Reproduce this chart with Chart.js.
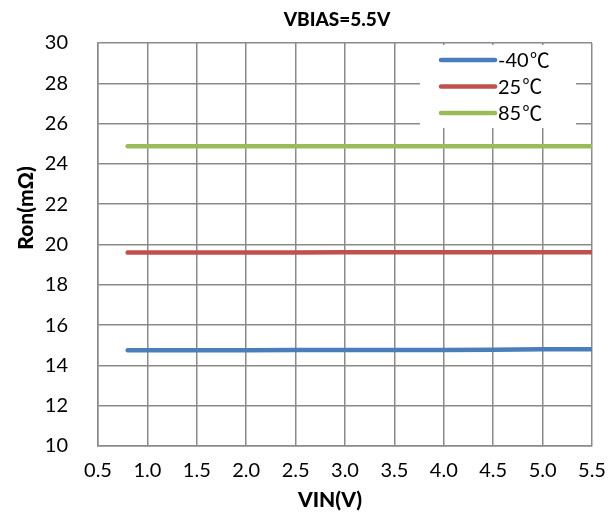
<!DOCTYPE html>
<html>
<head>
<meta charset="utf-8">
<script src="https://cdn.jsdelivr.net/npm/chart.js@4/dist/chart.umd.min.js"></script>
<style>
  html, body { margin: 0; padding: 0; background: #fff; }
  #wrap { width: 615px; height: 528px; }
</style>
</head>
<body>
<div id="wrap"><canvas id="ron"></canvas></div>
<script>
// VIN sweep (V) and on-resistance (mOhm) per temperature
const vin = [0.8, 1.0, 1.5, 2.0, 2.5, 3.0, 3.5, 4.0, 4.5, 5.0, 5.5];
const ronM40 = [14.75, 14.75, 14.75, 14.75, 14.77, 14.77, 14.77, 14.77, 14.78, 14.8, 14.8];
const ron25 = [19.6, 19.6, 19.6, 19.6, 19.6, 19.62, 19.62, 19.62, 19.62, 19.62, 19.62];
const ron85 = [24.87, 24.87, 24.87, 24.87, 24.87, 24.87, 24.87, 24.87, 24.87, 24.87, 24.87];
const seriesLabels = ['-40℃', '25℃', '85℃'];
const xTicks = [0.5, 1.0, 1.5, 2.0, 2.5, 3.0, 3.5, 4.0, 4.5, 5.0, 5.5];
const yTicks = [10, 12, 14, 16, 18, 20, 22, 24, 26, 28, 30];
const chartTitle = 'VBIAS=5.5V';
const xTitle = 'VIN(V)';
const yTitle = 'Ron(mΩ)';

const FONT = 'Lato, "Open Sans", sans-serif';
const CJK = '"Noto Sans CJK JP", "Noto Sans CJK SC", sans-serif';
const GRID = '#8a8a8a';

function toPoints(ys) {
    return vin.map((x, i) => ({ x: x, y: ys[i] }));
}

function lineSet(label, color, ys) {
    return {
        label: label,
        data: toPoints(ys),
        borderColor: color,
        backgroundColor: color,
        borderWidth: 4.5,
        borderCapStyle: 'round',
        pointRadius: 0,
        tension: 0,
    };
}

// titles placed like the original (not centred on the plot)
const titles = {
    id: 'titles',
    afterDraw(chart) {
        const ctx = chart.ctx;
        ctx.save();
        ctx.fillStyle = '#000';
        ctx.textAlign = 'center';
        ctx.textBaseline = 'middle';
        ctx.font = '900 19px ' + FONT;
        ctx.fillText(chartTitle, 337, 20);
        ctx.font = '900 21px ' + FONT;
        ctx.fillText(xTitle, 330, 500);
        ctx.translate(26, 208);
        ctx.rotate(-Math.PI / 2);
        ctx.fillText(yTitle, 0, 0);
        ctx.restore();
    }
};

// legend drawn inside the plot, on a white box like the original
const boxLegend = {
    id: 'boxLegend',
    afterDraw(chart) {
        const ctx = chart.ctx;
        const area = chart.chartArea;
        const bx = area.right - 172, by = area.top + 2;
        ctx.save();
        ctx.fillStyle = '#fff';
        ctx.fillRect(bx, by, 156, 83);
        ctx.textBaseline = 'middle';
        chart.data.datasets.forEach((ds, i) => {
            const y = by + 15 + i * 26.5;
            ctx.strokeStyle = ds.borderColor;
            ctx.lineWidth = 4.5;
            ctx.lineCap = 'round';
            ctx.beginPath();
            ctx.moveTo(bx + 21, y);
            ctx.lineTo(bx + 75, y);
            ctx.stroke();
            ctx.fillStyle = '#000';
            const num = ds.label.slice(0, -1);
            const unit = ds.label.slice(-1);
            ctx.font = '20px ' + FONT;
            ctx.fillText(num, bx + 78, y + 1);
            const w = ctx.measureText(num).width;
            ctx.font = '20px ' + CJK;
            ctx.fillText(unit, bx + 79 + w, y);
        });
        ctx.restore();
    }
};

const ctx = document.getElementById('ron').getContext('2d');
new Chart(ctx, {
    type: 'line',
    data: {
        datasets: [
            lineSet(seriesLabels[0], '#4a7ebb', ronM40),
            lineSet(seriesLabels[1], '#c0504d', ron25),
            lineSet(seriesLabels[2], '#9bbb59', ron85),
        ],
    },
    options: {
        responsive: true,
        maintainAspectRatio: false,
        animation: false,
        layout: { padding: { left: 0, right: 0, top: 43, bottom: 0 } },
        plugins: {
            legend: { display: false },
            tooltip: { enabled: false },
            title: { display: false },
        },
        scales: {
            x: {
                type: 'linear',
                min: 0.5,
                max: 5.5,
                afterBuildTicks(scale) {
                    scale.ticks = xTicks.map(v => ({ value: v }));
                },
                afterFit(scale) {
                    scale.height = 82;
                    scale.paddingLeft = 0;
                    scale.paddingRight = 23;
                },
                ticks: {
                    color: '#000',
                    font: { family: FONT, size: 20 },
                    padding: 13,
                    maxRotation: 0,
                    callback: v => v.toFixed(1),
                },
                grid: { color: GRID, lineWidth: 1.5, drawTicks: false },
                border: { color: GRID, width: 1.5 },
            },
            y: {
                min: 10,
                max: 30,
                afterBuildTicks(scale) {
                    scale.ticks = yTicks.map(v => ({ value: v }));
                },
                afterFit(scale) { scale.width = 98; },
                ticks: {
                    color: '#000',
                    font: { family: FONT, size: 20 },
                    padding: 30,
                },
                grid: { color: GRID, lineWidth: 1.5, drawTicks: false },
                border: { color: GRID, width: 1.5 },
            },
        },
    },
    plugins: [titles, boxLegend],
});
</script>
</body>
</html>
